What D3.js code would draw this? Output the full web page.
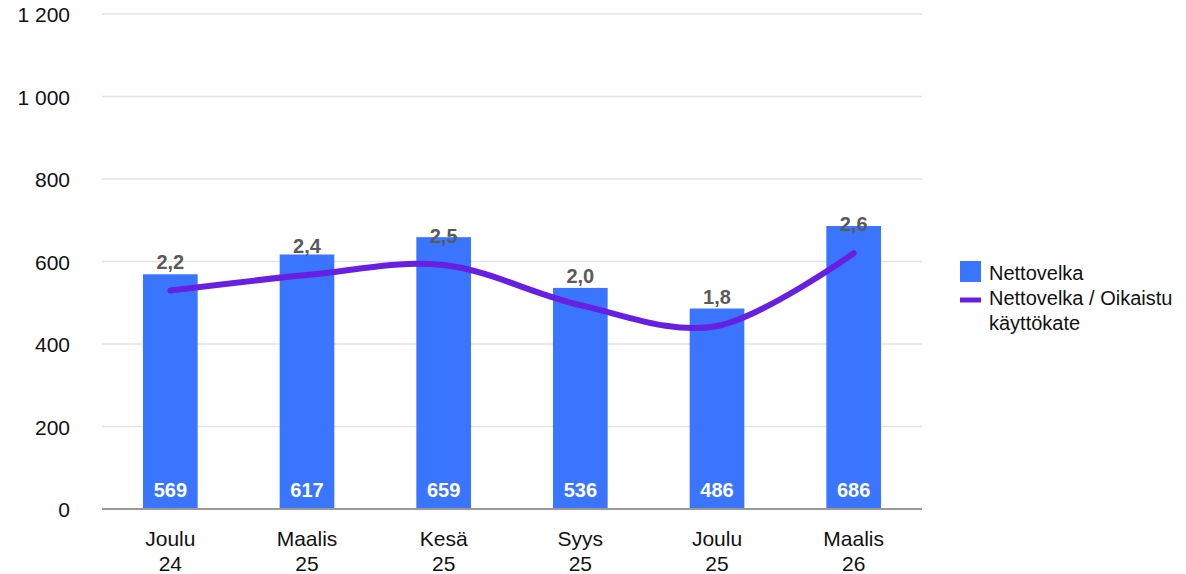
<!DOCTYPE html>
<html><head><meta charset="utf-8">
<script src="https://cdn.jsdelivr.net/npm/d3@7"></script>
<style>body{margin:0;background:#fff;} svg{display:block;font-family:"Liberation Sans",Arial,sans-serif;}</style>
</head><body>
<svg id="c" width="1186" height="574"></svg>
<script>
const categories = [["Joulu","24"],["Maalis","25"],["Kesä","25"],["Syys","25"],["Joulu","25"],["Maalis","26"]];
const netDebt = [569, 617, 659, 536, 486, 686];
const ratio = [2.19, 2.36, 2.47, 2.03, 1.80, 2.60];
const yTicks = [0, 200, 400, 600, 800, 1000, 1200];
const legendLabels = [["Nettovelka"], ["Nettovelka / Oikaistu", "käyttökate"]];

(function () {
const svg = d3.select("#c");
const pLeft = 102, pRight = 922, pTop = 14, pBottom = 509;
const keys = categories.map((d, i) => i);
const x = d3.scaleBand().domain(keys).range([pLeft, pRight]).paddingInner(0.6).paddingOuter(0.3);
const y = d3.scaleLinear().domain([0, 1200]).range([pBottom, pTop]);
const y2 = d3.scaleLinear().domain([-0.213, 5.232]).range([pBottom, pTop]);
const fmt = v => d3.format(".1f")(v).replace(".", ",");
const fmtInt = v => d3.format(",")(v).replace(/,/g, " ");

svg.append("g").selectAll("line").data(yTicks.filter(t => t > 0)).join("line")
  .attr("x1", pLeft).attr("x2", pRight).attr("y1", d => y(d)).attr("y2", d => y(d))
  .attr("stroke", "#e3e3e3").attr("stroke-width", 1.5);
svg.append("g").selectAll("text").data(yTicks).join("text")
  .attr("x", 70).attr("y", d => y(d) + 8).attr("text-anchor", "end")
  .attr("font-size", 21).attr("fill", "#111").text(d => fmtInt(d));

svg.append("g").selectAll("rect").data(netDebt).join("rect")
  .attr("x", (d, i) => x(i)).attr("width", x.bandwidth())
  .attr("y", d => y(d)).attr("height", d => y(0) - y(d))
  .attr("fill", "#3a75ff");

svg.append("line").attr("x1", pLeft).attr("x2", pRight).attr("y1", y(0)).attr("y2", y(0))
  .attr("stroke", "#999").attr("stroke-width", 2);

svg.append("g").selectAll("text").data(netDebt).join("text")
  .attr("x", (d, i) => x(i) + x.bandwidth() / 2).attr("y", y(0) - 12)
  .attr("text-anchor", "middle").attr("font-size", 20).attr("font-weight", "bold")
  .attr("fill", "#fff").text(d => d);

const line = d3.line().x((d, i) => x(i) + x.bandwidth() / 2).y(d => y2(d)).curve(d3.curveCatmullRom.alpha(0));
svg.append("path").datum(ratio).attr("d", line).attr("fill", "none")
  .attr("stroke", "#6720e2").attr("stroke-width", 6).attr("stroke-linecap", "round");

svg.append("g").selectAll("text").data(ratio).join("text")
  .attr("x", (d, i) => x(i) + x.bandwidth() / 2).attr("y", d => y2(d) - 22)
  .attr("text-anchor", "middle").attr("font-size", 20).attr("font-weight", "bold")
  .attr("fill", "#5a5a5a").text(d => fmt(d));

const xl = svg.append("g").selectAll("text").data(categories).join("text")
  .attr("x", (d, i) => x(i) + x.bandwidth() / 2).attr("y", 546)
  .attr("text-anchor", "middle").attr("font-size", 21).attr("fill", "#111");
xl.selectAll("tspan").data(d => d).join("tspan")
  .attr("x", function () { return d3.select(this.parentNode).attr("x"); })
  .attr("dy", (d, i) => i === 0 ? 0 : 25).text(d => d);

const lg = svg.append("g");
lg.append("rect").attr("x", 960).attr("y", 261).attr("width", 21).attr("height", 21).attr("fill", "#3a75ff");
lg.append("line").attr("x1", 960).attr("x2", 981).attr("y1", 300).attr("y2", 300)
  .attr("stroke", "#6720e2").attr("stroke-width", 5);
const legendY = [280, 305];
legendLabels.forEach((lines, k) => {
  const t = lg.append("text").attr("x", 989).attr("y", legendY[k]).attr("font-size", 20).attr("fill", "#111");
  lines.forEach((s, j) => t.append("tspan").attr("x", 989).attr("dy", j === 0 ? 0 : 25).text(s));
});
})();
</script>
</body></html>
